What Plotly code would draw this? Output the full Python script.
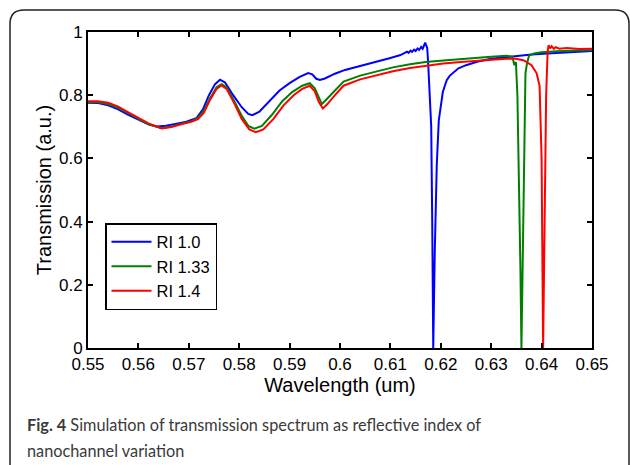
import plotly.graph_objects as go

# ---------------- data ----------------
wl_ri10 = [0.5500, 0.5520, 0.5540, 0.5560, 0.5580, 0.5600, 0.5620, 0.5636, 0.5655, 0.5676,
           0.5695, 0.5715, 0.5728, 0.5740, 0.5752, 0.5762, 0.5772, 0.5788, 0.5805, 0.5818,
           0.5826, 0.5840, 0.5860, 0.5880, 0.5900, 0.5920, 0.5937, 0.5945, 0.5953, 0.5960,
           0.5970, 0.5990, 0.6010, 0.6040, 0.6070, 0.6100, 0.6120, 0.6129, 0.6133, 0.6136,
           0.6140, 0.6143, 0.6147, 0.6150, 0.6154, 0.6157, 0.6161, 0.6164, 0.6167, 0.6169,
           0.6171, 0.6173, 0.6175, 0.6178, 0.6181, 0.6183, 0.6185, 0.6188, 0.6192, 0.6196,
           0.6200, 0.6204, 0.6208, 0.6212, 0.6218, 0.6225, 0.6235, 0.6250, 0.6272, 0.6300,
           0.6340, 0.6380, 0.6420, 0.6460, 0.6500]
t_ri10 = [0.776, 0.775, 0.768, 0.755, 0.738, 0.722, 0.708, 0.701, 0.703, 0.710,
          0.716, 0.727, 0.755, 0.800, 0.835, 0.849, 0.840, 0.800, 0.762, 0.741,
          0.737, 0.748, 0.780, 0.815, 0.838, 0.858, 0.870, 0.866, 0.852, 0.848,
          0.853, 0.868, 0.880, 0.892, 0.905, 0.918, 0.927, 0.933, 0.938, 0.934,
          0.941, 0.937, 0.944, 0.940, 0.948, 0.943, 0.953, 0.947, 0.962, 0.966,
          0.958, 0.950, 0.900, 0.800, 0.700, 0.400, 0.000, 0.300, 0.580, 0.720,
          0.765, 0.810, 0.830, 0.848, 0.862, 0.872, 0.885, 0.895, 0.906, 0.915,
          0.922, 0.929, 0.933, 0.937, 0.940]

wl_ri133 = [0.5500, 0.5520, 0.5540, 0.5560, 0.5580, 0.5600, 0.5620, 0.5645, 0.5665, 0.5685,
            0.5705, 0.5718, 0.5730, 0.5742, 0.5755, 0.5765, 0.5775, 0.5790, 0.5805, 0.5818,
            0.5830, 0.5845, 0.5865, 0.5885, 0.5905, 0.5925, 0.5940, 0.5950, 0.5958, 0.5964,
            0.5972, 0.5987, 0.6007, 0.6040, 0.6073, 0.6105, 0.6139, 0.6170, 0.6205, 0.6240,
            0.6272, 0.6300, 0.6330, 0.6342, 0.6346, 0.6349, 0.6352, 0.6355, 0.6358, 0.6360,
            0.6363, 0.6366, 0.6368, 0.6371, 0.6375, 0.6385, 0.6400, 0.6430, 0.6470, 0.6500]
t_ri133 = [0.778, 0.778, 0.772, 0.760, 0.743, 0.726, 0.708, 0.696, 0.700, 0.710,
           0.718, 0.727, 0.752, 0.790, 0.825, 0.835, 0.825, 0.782, 0.735, 0.703,
           0.694, 0.703, 0.738, 0.780, 0.810, 0.830, 0.838, 0.822, 0.790, 0.772,
           0.785, 0.811, 0.843, 0.862, 0.876, 0.888, 0.898, 0.905, 0.910, 0.915,
           0.919, 0.922, 0.925, 0.922, 0.895, 0.905, 0.800, 0.550, 0.250, 0.000,
           0.300, 0.700, 0.870, 0.900, 0.925, 0.932, 0.936, 0.939, 0.941, 0.943]

wl_ri14 = [0.5500, 0.5520, 0.5540, 0.5560, 0.5580, 0.5600, 0.5620, 0.5646, 0.5665, 0.5685,
           0.5705, 0.5718, 0.5730, 0.5742, 0.5755, 0.5765, 0.5775, 0.5790, 0.5805, 0.5820,
           0.5833, 0.5848, 0.5868, 0.5888, 0.5908, 0.5925, 0.5940, 0.5950, 0.5958, 0.5966,
           0.5975, 0.5990, 0.6007, 0.6040, 0.6073, 0.6105, 0.6139, 0.6170, 0.6205, 0.6240,
           0.6272, 0.6300, 0.6330, 0.6350, 0.6365, 0.6380, 0.6390, 0.6396, 0.6400, 0.6403,
           0.6406, 0.6409, 0.6412, 0.6414, 0.6417, 0.6420, 0.6424, 0.6428, 0.6435, 0.6450,
           0.6475, 0.6500]
t_ri14 = [0.781, 0.781, 0.776, 0.764, 0.746, 0.729, 0.711, 0.695, 0.699, 0.708,
          0.716, 0.724, 0.745, 0.785, 0.820, 0.831, 0.820, 0.775, 0.725, 0.692,
          0.683, 0.692, 0.725, 0.768, 0.800, 0.820, 0.830, 0.812, 0.778, 0.758,
          0.772, 0.800, 0.830, 0.850, 0.864, 0.876, 0.886, 0.893, 0.900, 0.905,
          0.909, 0.912, 0.915, 0.915, 0.910, 0.895, 0.870, 0.830, 0.600, 0.000,
          0.400, 0.800, 0.940, 0.958, 0.948, 0.955, 0.947, 0.952, 0.947, 0.949,
          0.946, 0.947]

series_names = ["RI 1.0", "RI 1.33", "RI 1.4"]
series_colors = ["#0000FF", "#008000", "#FF0000"]

x_tick_vals = [0.55, 0.56, 0.57, 0.58, 0.59, 0.60, 0.61, 0.62, 0.63, 0.64, 0.65]
x_tick_text = ["0.55", "0.56", "0.57", "0.58", "0.59", "0.6", "0.61", "0.62", "0.63", "0.64", "0.65"]
y_tick_vals = [0, 0.2, 0.4, 0.6, 0.8, 1.0]
y_tick_text = ["0", "0.2", "0.4", "0.6", "0.8", "1"]

x_title = "Wavelength (um)"
y_title = "Transmission (a.u.)"
caption_line1 = "<b>Fig. 4</b> Simulation of transmission spectrum as reflective index of"
caption_line2 = "nanochannel variation"

# ---------------- layout geometry ----------------
W, H = 630, 465
L, R, T, B = 88, 592, 32, 348  # plot-area pixel edges


def px(xp):
    return (xp - L) / (R - L)


def py(yp):
    return (B - yp) / (B - T)


fig = go.Figure()
for wl, tr, name, col in zip([wl_ri10, wl_ri133, wl_ri14], [t_ri10, t_ri133, t_ri14],
                             series_names, series_colors):
    fig.add_trace(go.Scatter(x=wl, y=tr, mode="lines", name=name,
                             line=dict(color=col, width=2)))

FAM = "Liberation Sans, Arial, sans-serif"
axis_font = dict(family=FAM, size=17, color="#000")
fig.update_layout(
    width=W, height=H,
    margin=dict(l=L, r=W - R, t=T, b=H - B, pad=0),
    paper_bgcolor="white", plot_bgcolor="white",
    font=axis_font,
    showlegend=True,
    legend=dict(x=px(105), y=py(223), xanchor="left", yanchor="top",
                bgcolor="white", bordercolor="black", borderwidth=1.5,
                font=dict(family=FAM, size=16.5),
                tracegroupgap=0, itemwidth=40),
    xaxis=dict(range=[0.55, 0.65], tickvals=x_tick_vals, ticktext=x_tick_text,
               ticks="inside", ticklen=5, tickwidth=1.5, tickcolor="black",
               showline=True, linecolor="black", linewidth=2, mirror="ticks",
               showgrid=False, zeroline=False,
               tickfont=axis_font,
               title=dict(text=x_title, font=dict(family=FAM, size=20), standoff=4)),
    yaxis=dict(range=[0, 1], tickvals=y_tick_vals, ticktext=y_tick_text,
               ticks="inside", ticklen=5, tickwidth=1.5, tickcolor="black",
               showline=True, linecolor="black", linewidth=2, mirror="ticks",
               showgrid=False, zeroline=False,
               tickfont=axis_font,
               title=dict(text=y_title, font=dict(family=FAM, size=20), standoff=2)),
)

# outer rounded frame of the figure panel
frame = (f"M {px(10)},{py(475)} L {px(10)},{py(24)} Q {px(10)},{py(10)} {px(24)},{py(10)} "
         f"L {px(615)},{py(10)} Q {px(629)},{py(10)} {px(629)},{py(24)} L {px(629)},{py(475)}")
fig.add_shape(type="path", path=frame, xref="paper", yref="paper",
              line=dict(color="#222222", width=1.5), layer="below")

cap_font = dict(family="Lato, Open Sans, sans-serif", size=16.3, color="#3a3a3a")
fig.add_annotation(text=caption_line1, x=px(25), y=py(424), xref="paper", yref="paper",
                   xanchor="left", yanchor="middle", showarrow=False, font=cap_font)
fig.add_annotation(text=caption_line2, x=px(25), y=py(450), xref="paper", yref="paper",
                   xanchor="left", yanchor="middle", showarrow=False, font=cap_font)

fig.write_html("out.html", config={"displayModeBar": False},
               post_script="document.body.style.margin='0';document.body.style.overflow='hidden';")
